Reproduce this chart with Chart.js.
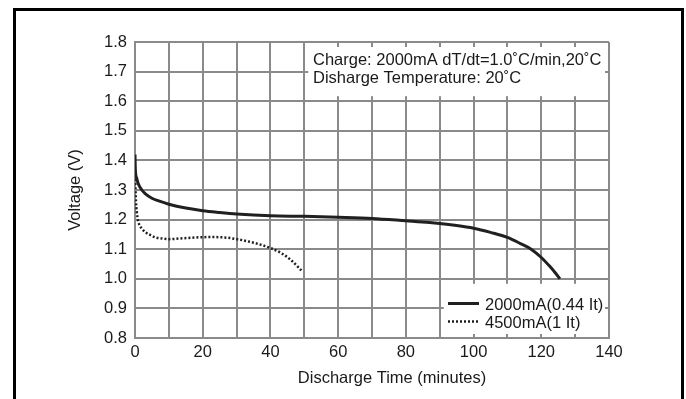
<!DOCTYPE html>
<html>
<head>
<meta charset="utf-8">
<style>
  body { margin: 0; background: #fff; }
  #wrap { width: 686px; height: 399px; position: relative; }
</style>
</head>
<body>
<div id="wrap"><canvas id="discharge-chart"></canvas></div>

<script src="https://cdn.jsdelivr.net/npm/chart.js"></script>
<script>
// discharge curves, time in minutes / voltage in V
const time2000 = [0, 0.1, 0.5, 1, 2, 3, 5, 7, 10, 15, 20, 25, 30, 40, 50, 60, 70, 80, 87, 95, 100, 105, 110, 114, 117, 120, 122.5, 124, 125.5];
const volt2000 = [1.42, 1.37, 1.34, 1.32, 1.30, 1.288, 1.272, 1.263, 1.252, 1.239, 1.230, 1.224, 1.219, 1.213, 1.211, 1.208, 1.204, 1.196, 1.190, 1.180, 1.171, 1.157, 1.140, 1.118, 1.100, 1.072, 1.042, 1.022, 1.000];

const time4500 = [0, 0.3, 0.7, 1.2, 2, 3, 4.5, 6, 8, 10, 13, 17, 22, 27, 31, 35, 40, 43, 46, 49.5];
const volt4500 = [1.35, 1.26, 1.21, 1.185, 1.17, 1.158, 1.148, 1.140, 1.136, 1.134, 1.136, 1.139, 1.141, 1.139, 1.132, 1.122, 1.104, 1.088, 1.064, 1.024];

const seriesLabels = ['2000mA(0.44 It)', '4500mA(1 It)'];
const xTicks = [0, 20, 40, 60, 80, 100, 120, 140];
const noteLines = ['Charge: 2000mA dT/dt=1.0˚C/min,20˚C', 'Disharge Temperature: 20˚C'];
const xTitle = 'Discharge Time (minutes)';

const toPoints = (xs, ys) => xs.map((x, i) => ({ x: x, y: ys[i] }));

const fontFamily = "'Liberation Sans', Arial, sans-serif";
Chart.defaults.font.family = fontFamily;
Chart.defaults.color = '#1a1a1a';

const gridGrey = '#8a8a8a';

// white boxes over the grid + legend, note text, x title, outer frame
const extras = {
    id: 'extras',
    beforeDatasetsDraw(chart) {
        const { ctx, chartArea: a, scales: { x, y } } = chart;
        ctx.save();
        ctx.fillStyle = '#fff';
        // note box top right
        let l = x.getPixelForValue(50) + 4;
        let b = y.getPixelForValue(1.6) - 5;
        ctx.fillRect(l, a.top + 5, a.right - 4 - l, b - a.top - 5);
        // legend box bottom right
        l = x.getPixelForValue(90) + 4;
        let t = y.getPixelForValue(1.0) + 5;
        ctx.fillRect(l, t, a.right - 4 - l, a.bottom - 4 - t);
        ctx.restore();
    },
    afterDraw(chart) {
        const { ctx } = chart;
        ctx.save();
        ctx.font = '16.5px ' + fontFamily;
        ctx.fillStyle = '#1a1a1a';
        ctx.textBaseline = 'alphabetic';
        ctx.fillText(noteLines[0], 313, 64.5);
        ctx.fillText(noteLines[1], 313, 82.5);

        // legend
        const rows = [303.5, 321.5];
        chart.data.datasets.forEach((ds, i) => {
            ctx.strokeStyle = ds.borderColor;
            ctx.lineWidth = ds.borderWidth;
            ctx.setLineDash(ds.borderDash || []);
            ctx.beginPath();
            ctx.moveTo(448, rows[i]);
            ctx.lineTo(479, rows[i]);
            ctx.stroke();
            ctx.setLineDash([]);
            ctx.fillText(ds.label, 485, rows[i] + 6);
        });

        // x axis title sits right of centre in the original
        ctx.textAlign = 'center';
        ctx.textBaseline = 'middle';
        ctx.fillText(xTitle, 392, 378);

        // frame
        ctx.strokeStyle = '#000';
        ctx.lineWidth = 3;
        ctx.strokeRect(14.5, 9.5, 668, 400);
        ctx.restore();
    }
};

new Chart(document.getElementById('discharge-chart'), {
    type: 'line',
    data: {
        datasets: [
            {
                label: seriesLabels[0],
                data: toPoints(time2000, volt2000),
                borderColor: '#231f20',
                borderWidth: 3,
                pointRadius: 0,
                cubicInterpolationMode: 'monotone',
                fill: false
            },
            {
                label: seriesLabels[1],
                data: toPoints(time4500, volt4500),
                borderColor: '#231f20',
                borderWidth: 2.5,
                borderDash: [2, 2],
                pointRadius: 0,
                cubicInterpolationMode: 'monotone',
                fill: false
            }
        ]
    },
    options: {
        responsive: true,
        maintainAspectRatio: false,
        animation: false,
        layout: { padding: { left: 66, top: 42, right: 77, bottom: 11 } },
        plugins: { legend: { display: false }, tooltip: { enabled: false } },
        scales: {
            x: {
                type: 'linear',
                min: 0,
                max: 140,
                afterFit: s => { s.height = 50; },
                grid: { color: gridGrey, lineWidth: 2, drawTicks: false },
                border: { color: gridGrey, width: 2 },
                ticks: {
                    stepSize: 10,
                    autoSkip: false,
                    maxRotation: 0,
                    padding: 5,
                    font: { size: 16.5 },
                    callback: v => xTicks.includes(v) ? v : ''
                }
            },
            y: {
                min: 0.8,
                max: 1.8,
                afterFit: s => { s.width = 69; },
                grid: { color: gridGrey, lineWidth: 2, drawTicks: false },
                border: { color: gridGrey, width: 2 },
                ticks: {
                    stepSize: 0.1,
                    padding: 8,
                    font: { size: 16.5 },
                    callback: v => v.toFixed(1)
                },
                title: { display: true, text: 'Voltage (V)', font: { size: 16.5 }, padding: 0 }
            }
        }
    },
    plugins: [extras]
});
</script>
</body>
</html>
